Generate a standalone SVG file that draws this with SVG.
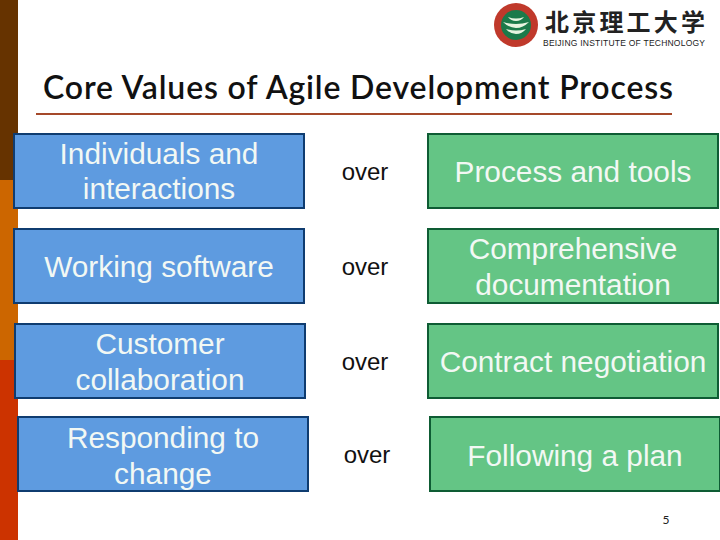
<svg xmlns="http://www.w3.org/2000/svg" width="720" height="540" viewBox="0 0 720 540">
<style>
.b{fill:#5e9be0;stroke:#0f3c70;stroke-width:2}
.g{fill:#64c585;stroke:#0e5c34;stroke-width:2}
.t{font-family:"Liberation Sans",Arial,sans-serif;font-size:29.8px;text-anchor:middle;fill:#f2f8f4}
.o{font-family:"Liberation Sans",Arial,sans-serif;font-size:24px;text-anchor:middle;fill:#111}
</style>
<rect width="720" height="540" fill="#fff"/>
<g id="sidebar">
<rect x="0" y="0" width="18" height="180" fill="#663300"/>
<rect x="0" y="180" width="18" height="180" fill="#cc6600"/>
<rect x="0" y="360" width="18" height="180" fill="#cc3300"/>
</g>
<g id="logo">
<circle cx="516" cy="25" r="22" fill="#c0392b"/>
<circle cx="516" cy="25" r="15" fill="#1c7a4a"/>
<path d="M503 22q13 4 26 0q-6 6-13 6t-13-6zM506 29q10 3 20 0q-4 5-10 5t-10-5zM508 17q8 3 16 0q-3 4-8 4t-8-4z" fill="#e8f4e0"/>
<text x="625" y="31" font-family="'Noto Sans CJK SC',sans-serif" font-size="24" font-weight="700" text-anchor="middle" fill="#222" textLength="160">北京理工大学</text>
<text x="624" y="45.5" font-family="'Liberation Sans',sans-serif" font-size="8.5" text-anchor="middle" fill="#222" textLength="162">BEIJING INSTITUTE OF TECHNOLOGY</text>
</g>
<text id="title" x="358" y="99" font-family="Lato,sans-serif" font-size="32" font-weight="600" text-anchor="middle" fill="#111" textLength="630">Core Values of Agile Development Process</text>
<line x1="36" y1="114" x2="672" y2="114" stroke="#a5492a" stroke-width="2"/>
<g id="n1"><rect class="b" x="14" y="134" width="290" height="74"/><text class="t" x="159" y="164">Individuals and</text><text class="t" x="159" y="199">interactions</text></g>
<g id="n2"><rect class="b" x="14" y="229" width="290" height="74"/><text class="t" x="159" y="277">Working software</text></g>
<g id="n3"><rect class="b" x="15" y="324" width="290" height="74"/><text class="t" x="160" y="354">Customer</text><text class="t" x="160" y="390">collaboration</text></g>
<g id="n4"><rect class="b" x="18" y="417" width="290" height="74"/><text class="t" x="163" y="448">Responding to</text><text class="t" x="163" y="484">change</text></g>
<g id="o1"><text class="o" x="365" y="180">over</text></g>
<g id="o2"><text class="o" x="365" y="275">over</text></g>
<g id="o3"><text class="o" x="365" y="370">over</text></g>
<g id="o4"><text class="o" x="367" y="463">over</text></g>
<g id="m1"><rect class="g" x="428" y="134" width="290" height="74"/><text class="t" x="573" y="182">Process and tools</text></g>
<g id="m2"><rect class="g" x="428" y="229" width="290" height="74"/><text class="t" x="573" y="259">Comprehensive</text><text class="t" x="573" y="295">documentation</text></g>
<g id="m3"><rect class="g" x="428" y="324" width="290" height="74"/><text class="t" x="573" y="372">Contract negotiation</text></g>
<g id="m4"><rect class="g" x="430" y="417" width="290" height="74"/><text class="t" x="575" y="466">Following a plan</text></g>
<text id="page" x="666" y="524" font-family="Lato,sans-serif" font-size="12" text-anchor="middle" fill="#222">5</text>
</svg>
